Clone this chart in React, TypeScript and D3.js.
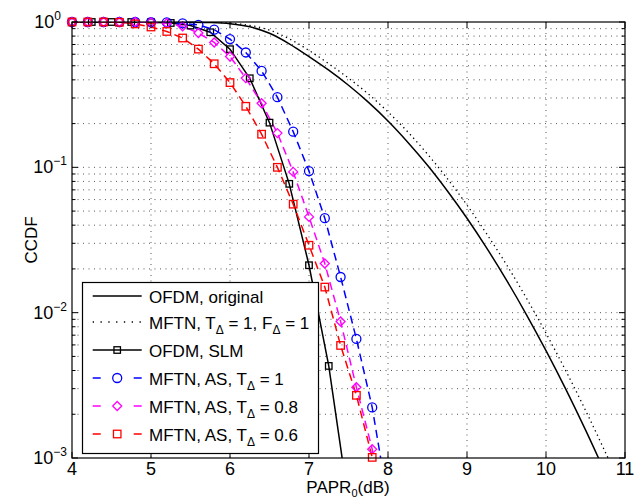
import React from "react";
import * as d3 from "d3";

const xTickValues = [4, 5, 6, 7, 8, 9, 10, 11];
const yTickExponents = [0, -1, -2, -3];

const ofdmX = [4, 4.5, 5, 5.5, 5.75, 6, 6.25, 6.5, 6.75, 7, 7.25, 7.5, 7.75, 8, 8.25, 8.5, 8.75, 9, 9.25, 9.5, 9.75, 10, 10.25, 10.5, 10.75];
const ofdmY = [1, 1, 0.9999, 0.998, 0.992, 0.973, 0.927, 0.836, 0.708, 0.578, 0.466, 0.367, 0.281, 0.2085, 0.149, 0.1033, 0.069, 0.0446, 0.0278, 0.01675, 0.00975, 0.00548, 0.00298, 0.00156, 0.00079];

const mftnX = [4, 4.5, 5, 5.5, 5.75, 6, 6.25, 6.5, 6.75, 7, 7.25, 7.5, 7.75, 8, 8.25, 8.5, 8.75, 9, 9.25, 9.5, 9.75, 10, 10.25, 10.5, 10.75, 11];
const mftnY = [1, 1, 1, 0.999, 0.996, 0.982, 0.948, 0.879, 0.767, 0.637, 0.516, 0.411, 0.32, 0.2405, 0.1754, 0.1233, 0.0838, 0.055, 0.0348, 0.0214, 0.01265, 0.00723, 0.00399, 0.00213, 0.0011, 0.00056];

const slmX = [4, 4.25, 4.5, 4.75, 5, 5.25, 5.5, 5.75, 6, 6.25, 6.5, 6.75, 7, 7.25, 7.5];
const slmY = [1, 1, 1, 1, 0.997, 0.985, 0.945, 0.85, 0.65, 0.41, 0.203, 0.077, 0.0212, 0.0043, 0.0005];

const asX = [4, 4.2, 4.4, 4.6, 4.8, 5, 5.2, 5.4, 5.6, 5.8, 6, 6.2, 6.4, 6.6, 6.8, 7, 7.2, 7.4, 7.6, 7.8, 8];
const as10Y = [1, 1, 1, 1, 1, 0.998, 0.995, 0.98, 0.955, 0.885, 0.763, 0.617, 0.461, 0.304, 0.176, 0.0942, 0.0447, 0.0176, 0.0066, 0.00223, 0.0005];
const as08Y = [1, 1, 1, 1, 1, 0.995, 0.98, 0.935, 0.84, 0.723, 0.579, 0.411, 0.276, 0.172, 0.093, 0.0456, 0.0218, 0.0087, 0.00307, 0.00115, 0.0003];
const as06Y = [1, 1, 1, 0.995, 0.97, 0.924, 0.861, 0.776, 0.651, 0.516, 0.383, 0.263, 0.169, 0.1, 0.0558, 0.0291, 0.015, 0.00595, 0.0027, 0.00101];

const FONT = "'Liberation Sans', Arial, Helvetica, sans-serif";

const L = 72, R = 625, T = 22, B = 458;

export default function App() {
  const x = d3.scaleLinear().domain([4, 11]).range([L, R]);
  const y = d3.scaleLog().domain([1e-3, 1]).range([B, T]);

  const zip = (xs: number[], ys: number[]) => xs.map((v, i) => [v, ys[i]] as [number, number]);
  const lineLin = d3.line<[number, number]>().x((d) => x(d[0])).y((d) => y(d[1]));
  const lineSmooth = d3
    .line<[number, number]>()
    .x((d) => x(d[0]))
    .y((d) => y(d[1]))
    .curve(d3.curveCatmullRom.alpha(0.5));

  const inDomain = (d: [number, number]) => d[1] >= 0.00099 && d[1] <= 1.0001;

  const gridY: number[] = [];
  for (let e = -3; e < 0; e++) {
    for (let m = 1; m <= 9; m++) {
      const v = m * Math.pow(10, e);
      if (v > 1e-3 && v < 1) gridY.push(v);
    }
  }
  const minorY = gridY.filter((v) => Math.abs(Math.log10(v) - Math.round(Math.log10(v))) > 1e-6);

  const series = [
    { pts: zip(slmX, slmY), color: "#000", marker: "square", size: 6.5 },
    { pts: zip(asX, as10Y), color: "#0000ff", marker: "circle", size: 9 },
    { pts: zip(asX, as08Y), color: "#ff00ff", marker: "diamond", size: 9 },
    { pts: zip(asX, as06Y), color: "#ff0000", marker: "square", size: 7.5 },
  ];

  const drawMarker = (kind: string, cx: number, cy: number, size: number, color: string, key: string) => {
    const h = size / 2;
    if (kind === "circle")
      return <circle key={key} cx={cx} cy={cy} r={h} fill="none" stroke={color} strokeWidth={1.3} />;
    if (kind === "square")
      return <rect key={key} x={cx - h} y={cy - h} width={size} height={size} fill="none" stroke={color} strokeWidth={1.3} />;
    return (
      <polygon
        key={key}
        points={`${cx},${cy - h} ${cx + h},${cy} ${cx},${cy + h} ${cx - h},${cy}`}
        fill="none"
        stroke={color}
        strokeWidth={1.3}
      />
    );
  };

  const legendRows = [
    { ly: 296, kind: "solid", color: "#000", label: [["OFDM, original", false]] },
    { ly: 322, kind: "dotted", color: "#000", label: [["MFTN, T", false], ["Δ", true], [" = 1, F", false], ["Δ", true], [" = 1", false]] },
    { ly: 350, kind: "solid", color: "#000", marker: "square", size: 6.5, label: [["OFDM, SLM", false]] },
    { ly: 378, kind: "dashed", color: "#0000ff", marker: "circle", size: 9, label: [["MFTN, AS, T", false], ["Δ", true], [" = 1", false]] },
    { ly: 406, kind: "dashed", color: "#ff00ff", marker: "diamond", size: 9, label: [["MFTN, AS, T", false], ["Δ", true], [" = 0.8", false]] },
    { ly: 434, kind: "dashed", color: "#ff0000", marker: "square", size: 7.5, label: [["MFTN, AS, T", false], ["Δ", true], [" = 0.6", false]] },
  ] as any[];

  return (
    <svg width={635} height={500} style={{ position: "absolute", left: 0, top: 0, background: "#fff" }}>
      <defs>
        <clipPath id="plotClip">
          <rect x={L} y={T} width={R - L} height={B - T} />
        </clipPath>
      </defs>
      <rect x={0} y={0} width={635} height={500} fill="#fff" />

      {/* grid */}
      <g stroke="#444" strokeWidth={0.9} strokeDasharray="1,4.5">
        {xTickValues
          .filter((v) => v > 4 && v < 11)
          .map((v) => (
            <line key={"gx" + v} x1={x(v)} x2={x(v)} y1={T} y2={B} />
          ))}
        {gridY.map((v) => (
          <line key={"gy" + v} x1={L} x2={R} y1={y(v)} y2={y(v)} />
        ))}
      </g>

      {/* curves */}
      <g clipPath="url(#plotClip)" fill="none">
        <path d={lineSmooth(zip(ofdmX, ofdmY)) || ""} stroke="#000" strokeWidth={1.5} />
        <path d={lineSmooth(zip(mftnX, mftnY)) || ""} stroke="#000" strokeWidth={1.3} strokeDasharray="1.3,3.5" />
        <path d={lineLin(series[0].pts) || ""} stroke="#000" strokeWidth={1.5} />
        {series.slice(1).map((s, i) => (
          <path key={"s" + i} d={lineLin(s.pts) || ""} stroke={s.color} strokeWidth={1.5} strokeDasharray="8,5" />
        ))}
      </g>
      <g>
        {series.map((s, si) =>
          s.pts.filter(inDomain).map((d, i) => drawMarker(s.marker, x(d[0]), y(d[1]), s.size, s.color, `m${si}-${i}`))
        )}
      </g>

      {/* axes box */}
      <rect x={L} y={T} width={R - L} height={B - T} fill="none" stroke="#000" strokeWidth={1.2} />

      {/* ticks */}
      <g stroke="#000" strokeWidth={1}>
        {xTickValues.map((v) => (
          <g key={"xt" + v}>
            <line x1={x(v)} x2={x(v)} y1={B} y2={B - 6} />
            <line x1={x(v)} x2={x(v)} y1={T} y2={T + 6} />
          </g>
        ))}
        {yTickExponents.map((e) => (
          <g key={"yt" + e}>
            <line x1={L} x2={L + 6} y1={y(Math.pow(10, e))} y2={y(Math.pow(10, e))} />
            <line x1={R} x2={R - 6} y1={y(Math.pow(10, e))} y2={y(Math.pow(10, e))} />
          </g>
        ))}
        {minorY.map((v) => (
          <g key={"ym" + v}>
            <line x1={L} x2={L + 3.5} y1={y(v)} y2={y(v)} />
            <line x1={R} x2={R - 3.5} y1={y(v)} y2={y(v)} />
          </g>
        ))}
      </g>

      {/* tick labels */}
      <g fontFamily={FONT} fontSize={18} fill="#000">
        {xTickValues.map((v) => (
          <text key={"xl" + v} x={x(v)} y={475} textAnchor="middle">
            {v}
          </text>
        ))}
        {yTickExponents.map((e) => (
          <text key={"yl" + e} x={e === 0 ? 61 : 67} y={y(Math.pow(10, e)) + 6} textAnchor="end">
            10
            <tspan dy={-8} fontSize={12}>
              {e === 0 ? "0" : "−" + Math.abs(e)}
            </tspan>
          </text>
        ))}
        <text x={348} y={493} textAnchor="middle" fontSize={17}>
          PAPR
          <tspan dy={4} fontSize={11}>
            0
          </tspan>
          <tspan dy={-4}>(dB)</tspan>
        </text>
        <text transform="translate(37,240) rotate(-90)" textAnchor="middle" fontSize={17}>
          CCDF
        </text>
      </g>

      {/* legend */}
      <rect x={82.5} y={282.5} width={236} height={171} fill="#fff" stroke="#000" strokeWidth={1.2} />
      {legendRows.map((r, i) => {
        const x1 = 92.7, x2 = 141.7, mx = 117.2;
        let dash: string | undefined;
        if (r.kind === "dotted") dash = "1.3,6.5";
        if (r.kind === "dashed") dash = "8,33";
        return (
          <g key={"lg" + i}>
            <line x1={x1} x2={x2} y1={r.ly} y2={r.ly} stroke={r.color} strokeWidth={1.5} strokeDasharray={dash} />
            {r.marker ? drawMarker(r.marker, mx, r.ly, r.size, r.color, "lm" + i) : null}
            <text x={149} y={r.ly + 7} fontFamily={FONT} fontSize={17} fill="#000">
              {r.label.map((p: any, j: number) => {
                const sub = p[1];
                const prevSub = j > 0 && r.label[j - 1][1];
                const dy = sub ? 5 : prevSub ? -5 : 0;
                return (
                  <tspan key={j} dy={dy} fontSize={sub ? 12 : 17}>
                    {p[0]}
                  </tspan>
                );
              })}
            </text>
          </g>
        );
      })}
    </svg>
  );
}
